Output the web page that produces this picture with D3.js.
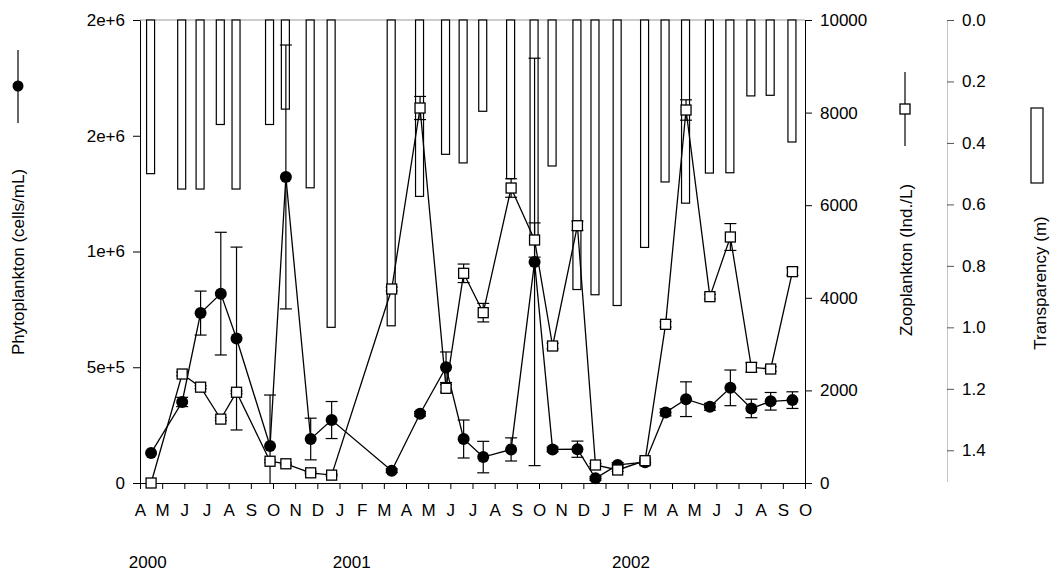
<!DOCTYPE html>
<html>
<head>
<meta charset="utf-8">
<script src="https://cdn.jsdelivr.net/npm/d3@7"></script>
<style>
  body { margin: 0; background: #fff; }
  svg { display: block; font-family: Arial, "Liberation Sans", sans-serif; }
</style>
</head>
<body>
<svg id="chart" width="1051" height="573"></svg>
<script>
// sampling dates (2000-04 .. 2002-10)
const sampleDates = [
  '2000-04-16', '2000-05-29', '2000-06-23', '2000-07-21', '2000-08-12', '2000-09-27',
  '2000-10-19', '2000-11-22', '2000-12-21', '2001-03-12', '2001-04-20', '2001-05-26',
  '2001-06-19', '2001-07-16', '2001-08-24', '2001-09-25', '2001-10-20', '2001-11-23',
  '2001-12-18', '2002-01-18', '2002-02-23', '2002-03-23', '2002-04-20', '2002-05-23',
  '2002-06-20', '2002-07-19', '2002-08-15', '2002-09-14'
];

// phytoplankton, cells/mL (mean and +/- error)
const phyto = [
  130000, 350000, 734000, 818000, 624000, 160000, 1322000, 190000, 272000, 53000,
  299000, 500000, 190000, 112000, 145000, 955000, 145000, 146000, 20000, 78000,
  90000, 305000, 362000, 329000, 411000, 322000, 353000, 358000
];
const phytoErr = [
  0, 20000, 95000, 265000, 395000, 220000, 570000, 90000, 80000, 8000,
  10000, 66000, 82000, 68000, 50000, 880000, 10000, 35000, 8000, 10000,
  10000, 15000, 75000, 15000, 77000, 40000, 38000, 36000
];

// zooplankton, Ind./L
const zoo = [
  0, 2354, 2070, 1380, 1960, 470, 415, 220, 170, 4190,
  8099, 2045, 4529, 3679, 6371, 5248, 2959, 5557, 389, 281,
  482, 3427, 8056, 4025, 5313, 2498, 2462, 4565
];
const zooErr = [
  0, 40, 30, 30, 30, 30, 20, 20, 20, 40,
  250, 80, 200, 200, 200, 370, 60, 100, 30, 30,
  60, 60, 220, 50, 290, 100, 50, 80
];

// transparency, m (bars hang from the top)
const transp = [
  0.50, 0.55, 0.55, 0.34, 0.55, 0.34, 0.29, 0.546, 1.0, 0.995,
  0.574, 0.437, 0.465, 0.297, 0.516, 0.72, 0.475, 0.877, 0.894, 0.929,
  0.74, 0.527, 0.596, 0.498, 0.497, 0.247, 0.245, 0.397
];

const monthLabels = ['A','M','J','J','A','S','O','N','D','J','F','M','A','M','J','J','A','S','O',
                     'N','D','J','F','M','A','M','J','J','A','S','O'];
const yearLabels = ['2000', '2001', '2002'];
const phytoTicks = [0, 500000, 1000000, 1500000, 2000000];
const phytoTickLabels = ['0', '5e+5', '1e+6', '2e+6', '2e+6'];
const zooTicks = [0, 2000, 4000, 6000, 8000, 10000];
const transTicks = [0, 0.2, 0.4, 0.6, 0.8, 1.0, 1.2, 1.4];

// month index counted from April 2000
const monthIndex = s => {
  const [yy, mm, dd] = s.split('-').map(Number);
  const days = new Date(yy, mm, 0).getDate();
  return (yy - 2000) * 12 + (mm - 4) + (dd - 1) / days;
};

const data = sampleDates.map((d, i) => ({
  t: monthIndex(d), p: phyto[i], pe: phytoErr[i], z: zoo[i], ze: zooErr[i], tr: transp[i]
}));

const pLeft = 140, pRight = 805, pTop = 20, pBottom = 483;
const fs = 17;

const svg = d3.select('#chart');

const x  = d3.scaleLinear().domain([0, 30]).range([pLeft, pRight]);
const yP = d3.scaleLinear().domain([0, 2000000]).range([pBottom, pTop]);
const yZ = d3.scaleLinear().domain([0, 10000]).range([pBottom, pTop]);
const yT = d3.scaleLinear().domain([0, 1.5]).range([pTop, 481]);

// top frame line
svg.append('line')
  .attr('x1', pLeft).attr('x2', pRight).attr('y1', pTop).attr('y2', pTop)
  .attr('stroke', '#999').attr('stroke-width', 1.2);

// transparency bars
const barW = 8;
svg.append('g').selectAll('rect')
  .data(data)
  .join('rect')
  .attr('x', d => x(d.t) - barW / 2 - 0.5)
  .attr('y', pTop)
  .attr('width', barW)
  .attr('height', d => yT(d.tr) - pTop)
  .attr('fill', '#fff')
  .attr('stroke', '#000')
  .attr('stroke-width', 1.2);

// axes
const styleAxis = g => {
  g.selectAll('text').attr('font-size', fs).attr('fill', '#000').attr('font-family', 'Arial, "Liberation Sans", sans-serif');
  g.selectAll('line').attr('stroke', '#000');
  g.select('.domain').attr('stroke', '#000');
};

svg.append('g')
  .attr('transform', `translate(${pLeft},0)`)
  .call(d3.axisLeft(yP).tickValues(phytoTicks).tickFormat((d, i) => phytoTickLabels[i]).tickSize(7).tickSizeOuter(0).tickPadding(8))
  .call(styleAxis);

svg.append('g')
  .attr('transform', `translate(${pRight},0)`)
  .call(d3.axisRight(yZ).tickValues(zooTicks).tickFormat(d3.format('d')).tickSize(7).tickSizeOuter(0).tickPadding(8))
  .call(styleAxis);

svg.append('g')
  .attr('transform', `translate(0,${pBottom})`)
  .call(d3.axisBottom(x).tickValues(d3.range(0, 31)).tickFormat((d, i) => monthLabels[i]).tickSize(6).tickSizeOuter(0).tickPadding(15))
  .call(styleAxis);

const tAxis = svg.append('g')
  .attr('transform', 'translate(947,0)')
  .call(d3.axisRight(yT).tickValues(transTicks).tickFormat(d3.format('.1f')).tickSize(7).tickSizeOuter(0).tickPadding(8))
  .call(styleAxis);
tAxis.select('.domain').attr('stroke', '#888').attr('stroke-dasharray', '1,1');
tAxis.selectAll('.tick line').attr('stroke', '#555');

// year labels
const yearAt = [0.35, 9.55, 22.15];
svg.append('g').selectAll('text')
  .data(yearLabels)
  .join('text')
  .attr('x', (d, i) => x(yearAt[i]))
  .attr('y', 568)
  .attr('text-anchor', 'middle')
  .attr('font-size', fs)
  .text(d => d);

// error bars helper
const errBars = (g, getY, v, e, lo) => {
  const cap = 6;
  const eb = g.append('g').selectAll('g')
    .data(data.filter(d => d[e] > 0))
    .join('g');
  eb.append('line')
    .attr('x1', d => x(d.t)).attr('x2', d => x(d.t))
    .attr('y1', d => getY(Math.max(lo, d[v] - d[e]))).attr('y2', d => getY(d[v] + d[e]))
    .attr('stroke', '#000').attr('stroke-width', 1.2);
  eb.append('line')
    .attr('x1', d => x(d.t) - cap).attr('x2', d => x(d.t) + cap)
    .attr('y1', d => getY(d[v] + d[e])).attr('y2', d => getY(d[v] + d[e]))
    .attr('stroke', '#000').attr('stroke-width', 1.2);
  eb.filter(d => d[v] - d[e] > lo).append('line')
    .attr('x1', d => x(d.t) - cap).attr('x2', d => x(d.t) + cap)
    .attr('y1', d => getY(d[v] - d[e])).attr('y2', d => getY(d[v] - d[e]))
    .attr('stroke', '#000').attr('stroke-width', 1.2);
};

// phytoplankton series
const gP = svg.append('g');
errBars(gP, yP, 'p', 'pe', 0);
gP.append('path')
  .datum(data)
  .attr('fill', 'none').attr('stroke', '#000').attr('stroke-width', 1.3)
  .attr('d', d3.line().x(d => x(d.t)).y(d => yP(d.p)));
gP.selectAll('circle')
  .data(data)
  .join('circle')
  .attr('cx', d => x(d.t)).attr('cy', d => yP(d.p)).attr('r', 6)
  .attr('fill', '#000');

// zooplankton series
const gZ = svg.append('g');
errBars(gZ, yZ, 'z', 'ze', 0);
gZ.append('path')
  .datum(data)
  .attr('fill', 'none').attr('stroke', '#000').attr('stroke-width', 1.3)
  .attr('d', d3.line().x(d => x(d.t)).y(d => yZ(d.z)));
const sq = 10;
gZ.selectAll('rect')
  .data(data)
  .join('rect')
  .attr('x', d => x(d.t) - sq / 2).attr('y', d => yZ(d.z) - sq / 2)
  .attr('width', sq).attr('height', sq)
  .attr('fill', '#fff').attr('stroke', '#000').attr('stroke-width', 1.3);

// legends and axis titles
const vText = (cx, cy, txt) => svg.append('text')
  .attr('transform', `translate(${cx},${cy}) rotate(-90)`)
  .attr('text-anchor', 'middle')
  .attr('dominant-baseline', 'central')
  .attr('font-size', fs)
  .text(txt);

// phytoplankton key
svg.append('line').attr('x1', 18).attr('x2', 18).attr('y1', 50).attr('y2', 123).attr('stroke', '#000').attr('stroke-width', 1.2);
svg.append('circle').attr('cx', 18).attr('cy', 86).attr('r', 5.5).attr('fill', '#000');
vText(18, 262, 'Phytoplankton (cells/mL)');

// zooplankton key
svg.append('line').attr('x1', 905).attr('x2', 905).attr('y1', 72).attr('y2', 146).attr('stroke', '#000').attr('stroke-width', 1.2);
svg.append('rect').attr('x', 900).attr('y', 104).attr('width', 10).attr('height', 10)
  .attr('fill', '#fff').attr('stroke', '#000').attr('stroke-width', 1.3);
vText(906, 260, 'Zooplankton (Ind./L)');

// transparency key
svg.append('rect').attr('x', 1031).attr('y', 108).attr('width', 12).attr('height', 75)
  .attr('fill', '#fff').attr('stroke', '#000').attr('stroke-width', 1.2);
vText(1040, 283, 'Transparency (m)');
</script>
</body>
</html>
